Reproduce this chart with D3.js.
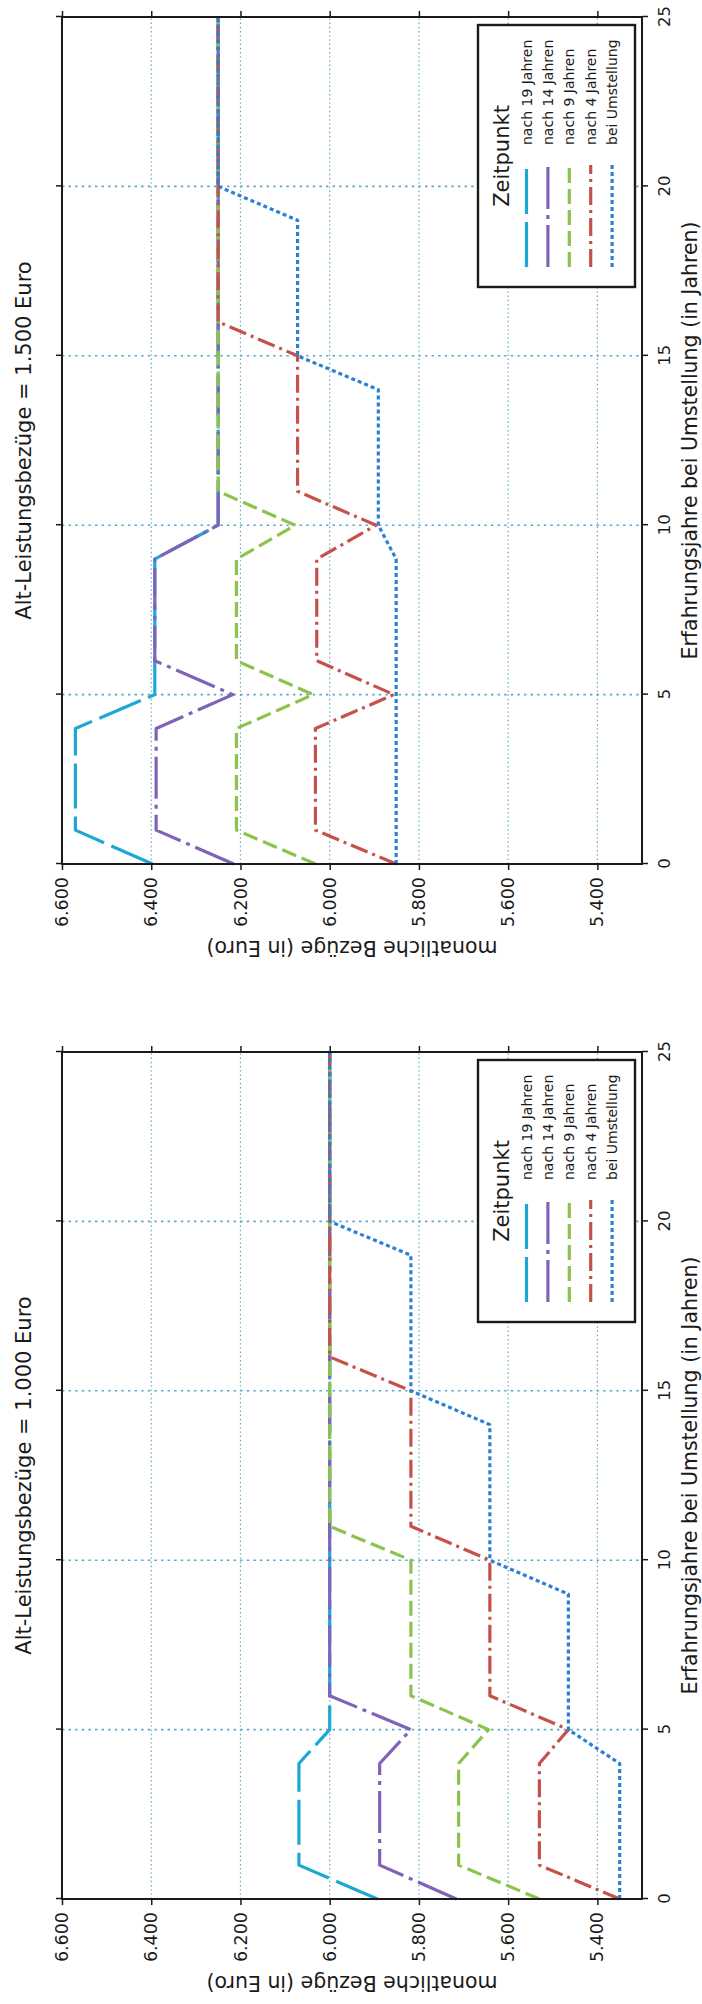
<!DOCTYPE html>
<html><head><meta charset="utf-8">
<script src="https://cdn.jsdelivr.net/npm/d3@7"></script>
<style>
body{margin:0;background:#fff}
svg{display:block}
text{font-family:"DejaVu Sans",sans-serif;fill:#1a1a1a}
</style>
</head><body>
<svg id="c" width="702" height="2004"></svg>
<script>
// ---------- data ----------
const years = [0,1,2,3,4,5,6,7,8,9,10,11,12,13,14,15,16,17,18,19,20,21,22,23,24,25];
const xTicks = [0,5,10,15,20,25];
const xTickLabels = ["0","5","10","15","20","25"];
const yTicks = [5400,5600,5800,6000,6200,6400,6600];
const yTickLabels = ["5.400","5.600","5.800","6.000","6.200","6.400","6.600"];
const seriesNames = ["nach 19 Jahren","nach 14 Jahren","nach 9 Jahren","nach 4 Jahren","bei Umstellung"];
const panelTitles = ["Alt-Leistungsbezüge = 1.000 Euro","Alt-Leistungsbezüge = 1.500 Euro"];
const xLabel = "Erfahrungsjahre bei Umstellung (in Jahren)";
const yLabel = "monatliche Bezüge (in Euro)";
const legendTitle = "Zeitpunkt";

// Alt-Leistungsbezüge = 1.000 Euro
const e1000_19 = [5893,6069,6069,6069,6069,6000,6000,6000,6000,6000,6000,6000,6000,6000,6000,6000,6000,6000,6000,6000,6000,6000,6000,6000,6000,6000];
const e1000_14 = [5716,5888,5888,5888,5888,5818,6000,6000,6000,6000,6000,6000,6000,6000,6000,6000,6000,6000,6000,6000,6000,6000,6000,6000,6000,6000];
const e1000_9  = [5530,5711,5711,5711,5711,5644,5818,5818,5818,5818,5818,6000,6000,6000,6000,6000,6000,6000,6000,6000,6000,6000,6000,6000,6000,6000];
const e1000_4  = [5350,5530,5530,5530,5530,5465,5641,5641,5641,5641,5641,5818,5818,5818,5818,5818,6000,6000,6000,6000,6000,6000,6000,6000,6000,6000];
const e1000_0  = [5350,5350,5350,5350,5350,5465,5465,5465,5465,5465,5641,5641,5641,5641,5641,5818,5818,5818,5818,5818,6000,6000,6000,6000,6000,6000];

// Alt-Leistungsbezüge = 1.500 Euro
const e1500_19 = [6397,6570,6570,6570,6570,6392,6392,6392,6392,6392,6250,6250,6250,6250,6250,6250,6250,6250,6250,6250,6250,6250,6250,6250,6250,6250];
const e1500_14 = [6215,6389,6389,6389,6389,6217,6392,6392,6392,6392,6250,6250,6250,6250,6250,6250,6250,6250,6250,6250,6250,6250,6250,6250,6250,6250];
const e1500_9  = [6032,6209,6209,6209,6209,6037,6209,6209,6209,6209,6077,6250,6250,6250,6250,6250,6250,6250,6250,6250,6250,6250,6250,6250,6250,6250];
const e1500_4  = [5851,6032,6032,6032,6032,5856,6029,6029,6029,6029,5896,6072,6072,6072,6072,6072,6250,6250,6250,6250,6250,6250,6250,6250,6250,6250];
const e1500_0  = [5851,5851,5851,5851,5851,5851,5851,5851,5851,5851,5891,5891,5891,5891,5891,6072,6072,6072,6072,6072,6250,6250,6250,6250,6250,6250];

// ---------- styles ----------
const colors = ["#1da7d3","#7f63b8","#8cc34c","#c4524b","#2b80d6"];
const dashes = ["45,8","42,6,4,6","15,6","18,5,3,5","4,3"];

// ---------- layout (drawn in the un-rotated frame, then turned by -90°) ----------
const W0 = 2004, H0 = 702;
const plotTop = 62, plotBottom = 642;
const panels = [
  {title: panelTitles[0], X0: 105,  X1: 952,  series: [e1000_19,e1000_14,e1000_9,e1000_4,e1000_0]},
  {title: panelTitles[1], X0: 1140, X1: 1987, series: [e1500_19,e1500_14,e1500_9,e1500_4,e1500_0]}
];

const svg = d3.select("#c");
svg.append("rect").attr("width",702).attr("height",2004).attr("fill","#fff");
const root = svg.append("g").attr("transform",`translate(0,${W0}) rotate(-90)`);

const y = d3.scaleLinear().domain([5300,6600]).range([plotBottom, plotTop]);
const ink = "#1a1a1a";
const gridCol = "#5aa5c9";

panels.forEach(p => {
  const g = root.append("g");
  const x = d3.scaleLinear().domain([0,25]).range([p.X0, p.X1]);

  // grid
  g.append("g").selectAll("line").data(yTicks).join("line")
    .attr("x1",p.X0).attr("x2",p.X1).attr("y1",d=>y(d)).attr("y2",d=>y(d))
    .attr("stroke",gridCol).attr("stroke-width",1.2).attr("stroke-dasharray","1.4,2.8");
  g.append("g").selectAll("line").data(xTicks.filter(d=>d>0 && d<25)).join("line")
    .attr("x1",d=>x(d)).attr("x2",d=>x(d)).attr("y1",plotTop).attr("y2",plotBottom)
    .attr("stroke",gridCol).attr("stroke-width",1.6).attr("stroke-dasharray","2.4,4.2");

  // series lines
  const line = d3.line().x((d,i)=>x(years[i])).y(d=>y(d));
  p.series.forEach((s,k) => {
    g.append("path").attr("d", line(s)).attr("fill","none")
      .attr("stroke",colors[k]).attr("stroke-width",3.2)
      .attr("stroke-dasharray",dashes[k]).attr("stroke-linejoin","round").attr("stroke-linecap","butt");
  });

  // axes
  const fmtX = d => xTickLabels[xTicks.indexOf(d)];
  const fmtY = d => yTickLabels[yTicks.indexOf(d)];
  const styleAxis = (sel, fs) => {
    sel.select(".domain").remove();
    sel.selectAll(".tick line").attr("stroke",ink).attr("stroke-width",1.5);
    sel.attr("font-family",'"DejaVu Sans",sans-serif').attr("font-size",fs);
    sel.selectAll("text").attr("fill",ink);
  };
  g.append("g").attr("transform",`translate(0,${plotBottom})`)
    .call(d3.axisBottom(x).tickValues(xTicks).tickFormat(fmtX).tickSize(6).tickPadding(10))
    .call(s=>styleAxis(s,16.5));
  g.append("g").attr("transform",`translate(0,${plotTop})`)
    .call(d3.axisTop(x).tickValues(xTicks).tickFormat("").tickSize(6))
    .call(s=>styleAxis(s,16));
  g.append("g").attr("transform",`translate(${p.X0},0)`)
    .call(d3.axisLeft(y).tickValues(yTicks).tickFormat(fmtY).tickSize(6).tickPadding(7))
    .call(s=>styleAxis(s,17.5));
  g.append("g").attr("transform",`translate(${p.X1},0)`)
    .call(d3.axisRight(y).tickValues(yTicks).tickFormat("").tickSize(6))
    .call(s=>styleAxis(s,16));

  // frame
  g.append("rect").attr("x",p.X0).attr("y",plotTop).attr("width",p.X1-p.X0).attr("height",plotBottom-plotTop)
    .attr("fill","none").attr("stroke",ink).attr("stroke-width",2);

  const cx = (p.X0+p.X1)/2, cy = (plotTop+plotBottom)/2;
  // title
  g.append("text").attr("x",cx).attr("y",31).attr("text-anchor","middle").attr("font-size",21).text(p.title);
  // x label
  g.append("text").attr("x",cx).attr("y",697).attr("text-anchor","middle").attr("font-size",20.5).text(xLabel);
  // y label
  g.append("text").attr("transform",`translate(${p.X0-77},${cy}) rotate(-90)`)
    .attr("text-anchor","middle").attr("font-size",20.5).text(yLabel);

  // legend
  const lw = 262, lh = 157;
  const bx = p.X1 - 8 - lw, by = 478;
  const lg = g.append("g");
  lg.append("rect").attr("x",bx).attr("y",by).attr("width",lw).attr("height",lh)
    .attr("fill","#fff").attr("stroke",ink).attr("stroke-width",2.4);
  lg.append("text").attr("x",bx+lw/2).attr("y",509).attr("text-anchor","middle").attr("font-size",21).text(legendTitle);
  seriesNames.forEach((n,k) => {
    const ry = 526.5 + k*21.4;
    lg.append("line").attr("x1",bx+20).attr("x2",bx+122).attr("y1",ry).attr("y2",ry)
      .attr("stroke",colors[k]).attr("stroke-width",3.2).attr("stroke-dasharray",dashes[k]);
    lg.append("text").attr("x",bx+142).attr("y",ry+5).attr("font-size",14).text(n);
  });
});
</script>
</body></html>
